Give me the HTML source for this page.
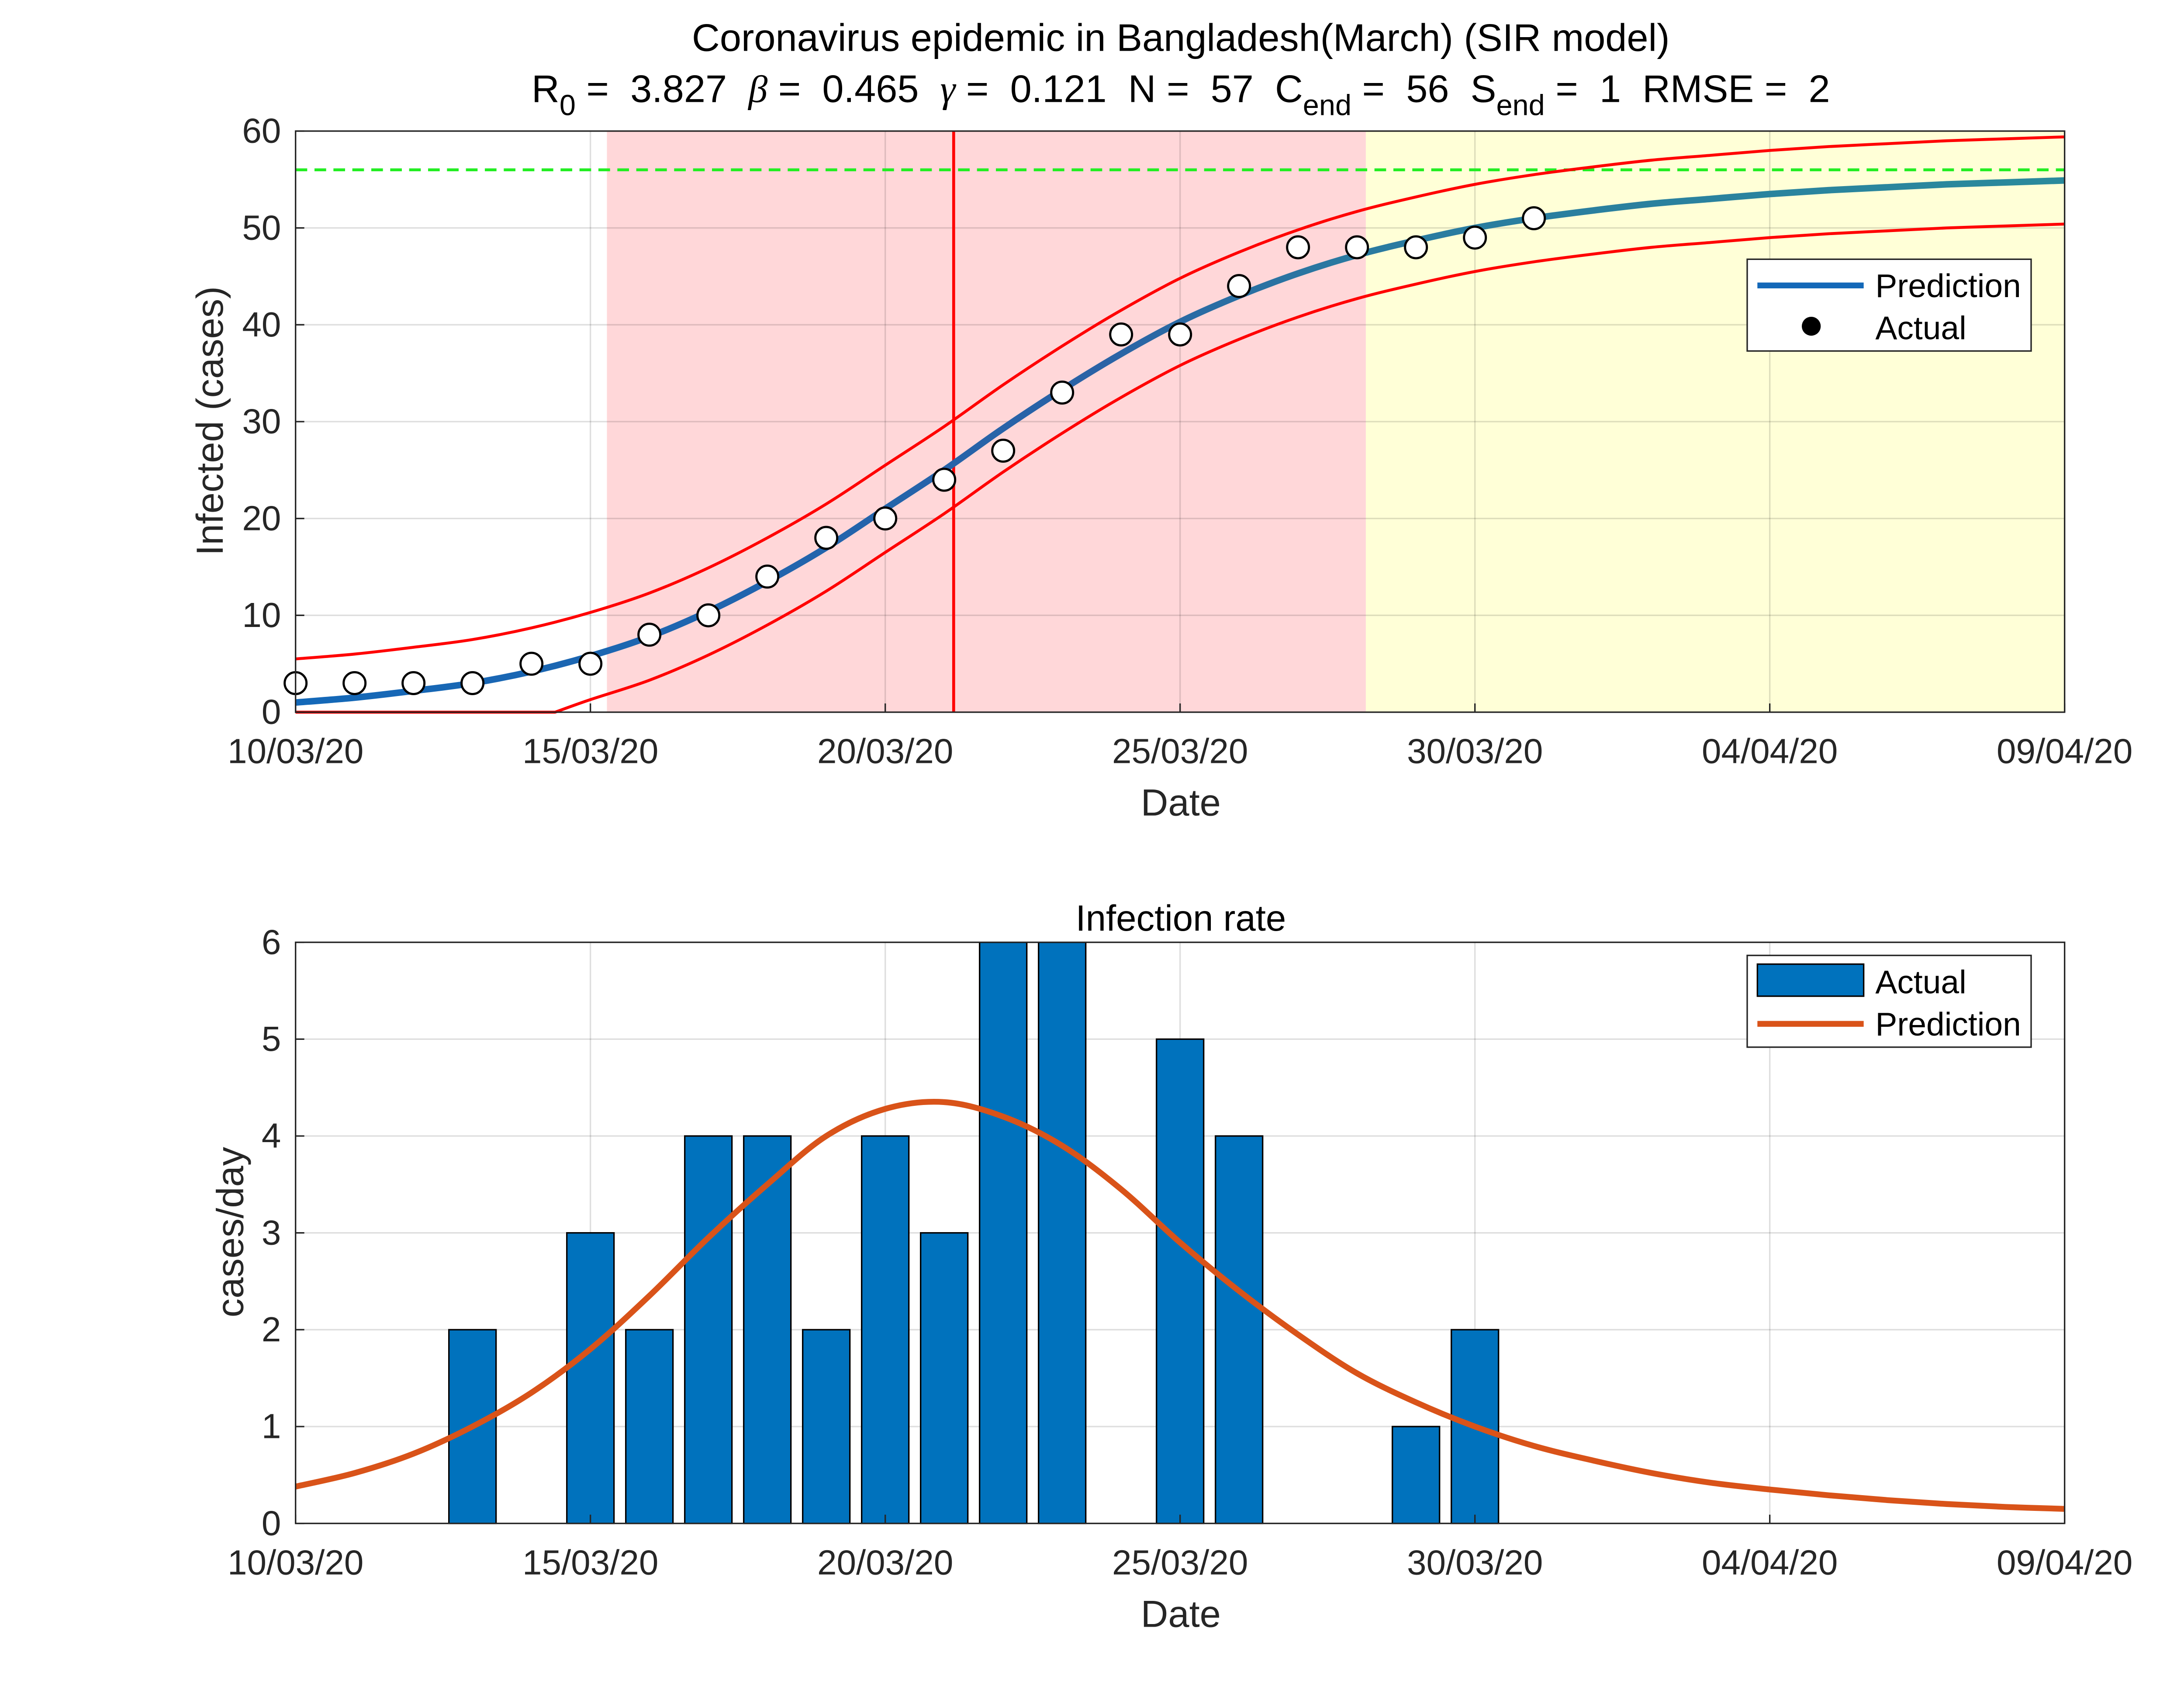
<!DOCTYPE html>
<html><head><meta charset="utf-8">
<style>
html,body{margin:0;padding:0;background:#fff;}
svg{display:block;font-family:"Liberation Sans",Arial,sans-serif;}
.pre{white-space:pre;}
</style></head>
<body>
<svg id="chart" width="5200" height="3900" viewBox="0 0 1560 1170" xmlns="http://www.w3.org/2000/svg">
<defs>
<linearGradient id="predGrad" x1="203" y1="0" x2="1418" y2="0" gradientUnits="userSpaceOnUse">
<stop offset="0" stop-color="#1368b8"/><stop offset="0.45" stop-color="#2a62a6"/><stop offset="0.6" stop-color="#2a7aa0"/><stop offset="1" stop-color="#2a8a9c"/>
</linearGradient>
</defs>
<g id="topChart"></g>
<g id="bottomChart"></g>
</svg>
<script>
const dayTicks = [0,5,10,15,20,25,30];
const dateLabels = ["10/03/20","15/03/20","20/03/20","25/03/20","30/03/20","04/04/20","09/04/20"];
const actualCum = [3,3,3,3,5,5,8,10,14,18,20,24,27,33,39,39,44,48,48,48,49,51];
const predCum = [1,1.5,2.2,3,4.2,5.8,7.8,10.4,13.5,17,21,25,29.3,33.3,37,40.3,43,45.3,47.2,48.7,50,51,51.8,52.5,53,53.5,53.9,54.2,54.5,54.7,54.9];
const upperCum = [5.5,6,6.7,7.5,8.7,10.3,12.3,14.9,18,21.5,25.5,29.5,33.8,37.8,41.5,44.8,47.5,49.8,51.7,53.2,54.5,55.5,56.3,57,57.5,58,58.4,58.7,59,59.2,59.4];
const lowerCum = [0,0,0,0,0,1.3,3.3,5.9,9,12.5,16.5,20.5,24.8,28.8,32.5,35.8,38.5,40.8,42.7,44.2,45.5,46.5,47.3,48,48.5,49,49.4,49.7,50,50.2,50.4];
const lowerZeroEnd = 4.4;
const pinkRange = [5.28,18.15];
const peakDay = 11.16;
const plateau = 56;
const barDays = [1,2,3,4,5,6,7,8,9,10,11,12,13,14,15,16,17,18,19,20];
const barVals = [0,0,2,0,3,2,4,4,2,4,3,6,6,0,5,4,0,0,1,2];
const predRate = [0.38,0.52,0.72,1.0,1.35,1.8,2.35,2.95,3.5,4.0,4.28,4.35,4.2,3.9,3.45,2.9,2.4,1.95,1.55,1.25,1.0,0.8,0.65,0.52,0.42,0.35,0.29,0.24,0.2,0.17,0.15];
const yTicksTop = [0,10,20,30,40,50,60];
const yTicksBot = [0,1,2,3,4,5,6];

const NS="http://www.w3.org/2000/svg";
function mk(p,tag,attrs,txt){const el=document.createElementNS(NS,tag);for(const k in attrs)el.setAttribute(k,attrs[k]);if(txt!==undefined)el.textContent=txt;p.appendChild(el);return el;}
function smooth(pts){let d='M'+pts[0][0]+','+pts[0][1];
for(let i=0;i<pts.length-1;i++){const p0=pts[Math.max(0,i-1)],p1=pts[i],p2=pts[i+1],p3=pts[Math.min(pts.length-1,i+2)];
const c1=[p1[0]+(p2[0]-p0[0])/6,p1[1]+(p2[1]-p0[1])/6],c2=[p2[0]-(p3[0]-p1[0])/6,p2[1]-(p3[1]-p1[1])/6];
d+=' C'+c1[0]+','+c1[1]+' '+c2[0]+','+c2[1]+' '+p2[0]+','+p2[1];}return d;}
const X0=203,X1=1418;
const xs=d=>X0+(d/30)*(X1-X0);
const T={y0:489,y1:90},B={y0:1046,y1:647};
const yt=v=>T.y0-(v/60)*(T.y0-T.y1);
const yb=v=>B.y0-(v/6)*(B.y0-B.y1);
const gTop=document.getElementById('topChart'),gBot=document.getElementById('bottomChart');
let e;
const TICK=24, LAB=26, LEG=22.5;

// ---- top chart
e=mk(gTop,'rect',{x:X0,y:T.y1,width:X1-X0,height:T.y0-T.y1,fill:'#fff'});

e=mk(gTop,'rect',{x:xs(pinkRange[0]),y:T.y1,width:xs(pinkRange[1])-xs(pinkRange[0]),height:T.y0-T.y1,fill:'#ffd7d9'});

e=mk(gTop,'rect',{x:xs(pinkRange[1]),y:T.y1,width:X1-xs(pinkRange[1]),height:T.y0-T.y1,fill:'#ffffd7'});

dayTicks.forEach(d=>{e=mk(gTop,'line',{x1:xs(d),x2:xs(d),y1:T.y1,y2:T.y0,stroke:'#000','stroke-opacity':0.13,'stroke-width':1});
});
yTicksTop.forEach(v=>{e=mk(gTop,'line',{x1:X0,x2:X1,y1:yt(v),y2:yt(v),stroke:'#000','stroke-opacity':0.13,'stroke-width':1});
});
e=mk(gTop,'line',{x1:X0,x2:X1,y1:yt(plateau),y2:yt(plateau),stroke:'#22ee22','stroke-width':2,'stroke-dasharray':'8,5'});

e=mk(gTop,'path',{d:smooth(upperCum.map((v,i)=>[xs(i),yt(v)])),fill:'none',stroke:'#ff0000','stroke-width':2});

let lp=[[xs(0),yt(0)],[xs(lowerZeroEnd),yt(0)]];
let lc=[[xs(lowerZeroEnd),yt(0)]];lowerCum.forEach((v,i)=>{if(i>lowerZeroEnd)lc.push([xs(i),yt(v)]);});
e=mk(gTop,'path',{d:'M'+lp[0][0]+','+lp[0][1]+' L'+lp[1][0]+','+lp[1][1]+' '+smooth(lc).replace('M','L'),fill:'none',stroke:'#ff0000','stroke-width':2});

e=mk(gTop,'line',{x1:xs(peakDay),x2:xs(peakDay),y1:T.y1,y2:T.y0,stroke:'#ff0000','stroke-width':2});

e=mk(gTop,'path',{d:smooth(predCum.map((v,i)=>[xs(i),yt(v)])),fill:'none',stroke:'url(#predGrad)','stroke-width':4.5});

actualCum.forEach((v,i)=>{e=mk(gTop,'circle',{cx:xs(i),cy:yt(v),r:7.5,fill:'#fff',stroke:'#000','stroke-width':1.5});
});
e=mk(gTop,'rect',{x:X0,y:T.y1,width:X1-X0,height:T.y0-T.y1,fill:'none',stroke:'#262626','stroke-width':1});

dayTicks.forEach((d,i)=>{mk(gTop,'line',{x1:xs(d),x2:xs(d),y1:T.y0,y2:T.y0-6,stroke:'#262626'});
e=mk(gTop,'text',{x:xs(d),y:T.y0+35,'text-anchor':'middle','font-size':TICK,fill:'#262626'},dateLabels[i]);
});
yTicksTop.forEach(v=>{mk(gTop,'line',{x1:X0,x2:X0+6,y1:yt(v),y2:yt(v),stroke:'#262626'});
e=mk(gTop,'text',{x:X0-10,y:yt(v)+8,'text-anchor':'end','font-size':TICK,fill:'#262626'},String(v));
});
e=mk(gTop,'text',{x:811,y:560,'text-anchor':'middle','font-size':LAB,fill:'#262626'},'Date');

e=mk(gTop,'text',{x:0,y:0,'text-anchor':'middle','font-size':LAB,fill:'#262626',transform:'translate(153,289) rotate(-90)'},'Infected (cases)');

e=mk(gTop,'text',{x:811,y:35,'text-anchor':'middle','font-size':26.5,fill:'#000'},'Coronavirus epidemic in Bangladesh(March) (SIR model)');

e=mk(gTop,'text',{x:811,y:70,'text-anchor':'middle','font-size':26.5,fill:'#000','class':'pre'});

e.innerHTML='R<tspan dy="9" font-size="20">0</tspan><tspan dy="-9"> =  3.827  </tspan><tspan font-style="italic" font-family="Liberation Serif">β</tspan><tspan> =  0.465  </tspan><tspan font-style="italic" font-family="Liberation Serif">γ</tspan><tspan> =  0.121  N =  57  C</tspan><tspan dy="9" font-size="20">end</tspan><tspan dy="-9"> =  56  S</tspan><tspan dy="9" font-size="20">end</tspan><tspan dy="-9"> =  1  RMSE =  2</tspan>';
let lg=mk(gTop,'g',{});
mk(lg,'rect',{x:1200,y:178,width:195,height:63,fill:'#fff',stroke:'#262626'});
mk(lg,'line',{x1:1207,x2:1280,y1:196,y2:196,stroke:'#1368b8','stroke-width':4});
mk(lg,'text',{x:1288,y:204,'font-size':LEG,fill:'#000'},'Prediction');
mk(lg,'circle',{cx:1244,cy:224,r:6.5,fill:'#000'});
mk(lg,'text',{x:1288,y:233,'font-size':LEG,fill:'#000'},'Actual');

// ---- bottom chart
dayTicks.forEach(d=>{e=mk(gBot,'line',{x1:xs(d),x2:xs(d),y1:B.y1,y2:B.y0,stroke:'#000','stroke-opacity':0.13});
});
yTicksBot.forEach(v=>{e=mk(gBot,'line',{x1:X0,x2:X1,y1:yb(v),y2:yb(v),stroke:'#000','stroke-opacity':0.13});
});
const bw=0.8*(X1-X0)/30;
barDays.forEach((d,i)=>{const v=barVals[i];
e=mk(gBot,'rect',{x:xs(d)-bw/2,y:yb(v),width:bw,height:yb(0)-yb(v),fill:'#0072bd',stroke:'#000','stroke-width':1});
});
e=mk(gBot,'path',{d:smooth(predRate.map((v,i)=>[xs(i),yb(v)])),fill:'none',stroke:'#d95319','stroke-width':4});

e=mk(gBot,'rect',{x:X0,y:B.y1,width:X1-X0,height:B.y0-B.y1,fill:'none',stroke:'#262626'});

dayTicks.forEach((d,i)=>{mk(gBot,'line',{x1:xs(d),x2:xs(d),y1:B.y0,y2:B.y0-6,stroke:'#262626'});
e=mk(gBot,'text',{x:xs(d),y:B.y0+35,'text-anchor':'middle','font-size':TICK,fill:'#262626'},dateLabels[i]);
});
yTicksBot.forEach(v=>{mk(gBot,'line',{x1:X0,x2:X0+6,y1:yb(v),y2:yb(v),stroke:'#262626'});
e=mk(gBot,'text',{x:X0-10,y:yb(v)+8,'text-anchor':'end','font-size':TICK,fill:'#262626'},String(v));
});
e=mk(gBot,'text',{x:811,y:1117,'text-anchor':'middle','font-size':LAB,fill:'#262626'},'Date');

e=mk(gBot,'text',{x:0,y:0,'text-anchor':'middle','font-size':LAB,fill:'#262626',transform:'translate(167,846) rotate(-90)'},'cases/day');

e=mk(gBot,'text',{x:811,y:639,'text-anchor':'middle','font-size':25,fill:'#000'},'Infection rate');

lg=mk(gBot,'g',{});
mk(lg,'rect',{x:1200,y:656,width:195,height:63,fill:'#fff',stroke:'#262626'});
mk(lg,'rect',{x:1207,y:662,width:73,height:22,fill:'#0072bd',stroke:'#000'});
mk(lg,'text',{x:1288,y:682,'font-size':LEG,fill:'#000'},'Actual');
mk(lg,'line',{x1:1207,x2:1280,y1:703,y2:703,stroke:'#d95319','stroke-width':4});
mk(lg,'text',{x:1288,y:711,'font-size':LEG,fill:'#000'},'Prediction');
</script>
</body></html>
